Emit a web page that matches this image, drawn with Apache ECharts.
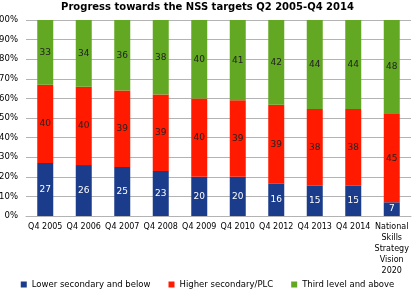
<!DOCTYPE html>
<html>
<head>
<meta charset="utf-8">
<script src="https://cdn.jsdelivr.net/npm/echarts@6/dist/echarts.min.js"></script>
<style>
  html, body { margin: 0; padding: 0; background: #fff; }
  #chart { width: 415px; height: 295px; }
</style>
</head>
<body>
<div id="chart"></div>
<script>
var categories = ['Q4 2005', 'Q4 2006', 'Q4 2007', 'Q4 2008', 'Q4 2009', 'Q4 2010', 'Q4 2012', 'Q4 2013', 'Q4 2014', 'National\nSkills\nStrategy\nVision\n2020'];
var lowerSecondary = [27, 26, 25, 23, 20, 20, 16, 15, 15, 7];
var higherSecondary = [40, 40, 39, 39, 40, 39, 39, 38, 38, 45];
var thirdLevel = [33, 34, 36, 38, 40, 41, 42, 44, 44, 48];
var seriesNames = ['Lower secondary and below', 'Higher secondary/PLC', 'Third level and above'];

// bars are drawn as share of 100% (rounded figures don't always add up)
var totals = categories.map(function (c, i) {
    return lowerSecondary[i] + higherSecondary[i] + thirdLevel[i];
});
function toShare(arr) {
    return arr.map(function (v, i) {
        return { value: v / totals[i] * 100, raw: v };
    });
}

function barSeries(name, data, color, labelColor) {
    return {
        name: name,
        type: 'bar',
        stack: 'total',
        barWidth: 16,
        itemStyle: { color: color },
        label: {
            show: true,
            position: 'inside',
            color: labelColor,
            fontFamily: 'DejaVu Sans',
            fontSize: 9,
            formatter: function (p) { return p.data.raw; }
        },
        data: toShare(data)
    };
}

var chart = echarts.init(document.getElementById('chart'));
var option = {
    animation: false,
    title: {
        text: 'Progress towards the NSS targets Q2 2005-Q4 2014',
        left: 'center',
        top: -3,
        textStyle: { fontFamily: 'DejaVu Sans', fontWeight: 'bold', fontSize: 10, color: '#000' }
    },
    grid: { left: 26, right: 4, top: 20, bottom: 79, outerBoundsMode: 'none', containLabel: false },
    legend: {
        bottom: 1,
        left: 'center',
        itemWidth: 6,
        itemHeight: 6,
        itemGap: 18,
        icon: 'rect',
        textStyle: { fontFamily: 'DejaVu Sans', fontSize: 8.5, color: '#000' },
        data: seriesNames
    },
    xAxis: {
        type: 'category',
        data: categories,
        axisLine: { lineStyle: { color: '#b3b3b3' } },
        axisTick: { lineStyle: { color: '#b3b3b3' } },
        axisLabel: { fontFamily: 'DejaVu Sans', fontSize: 8, color: '#000', interval: 0, lineHeight: 11, margin: 5 }
    },
    yAxis: {
        type: 'value',
        min: 0,
        max: 100,
        interval: 10,
        axisLine: { show: false },
        axisTick: { show: false },
        axisLabel: { fontFamily: 'DejaVu Sans', fontSize: 8.5, color: '#000', margin: 8, formatter: '{value}%' },
        splitLine: { lineStyle: { color: '#b3b3b3' } }
    },
    series: [
        barSeries(seriesNames[0], lowerSecondary, '#1b3c8b', '#ffffff'),
        barSeries(seriesNames[1], higherSecondary, '#ff1a00', '#222222'),
        barSeries(seriesNames[2], thirdLevel, '#62a822', '#222222')
    ]
};
chart.setOption(option);
</script>
</body>
</html>
